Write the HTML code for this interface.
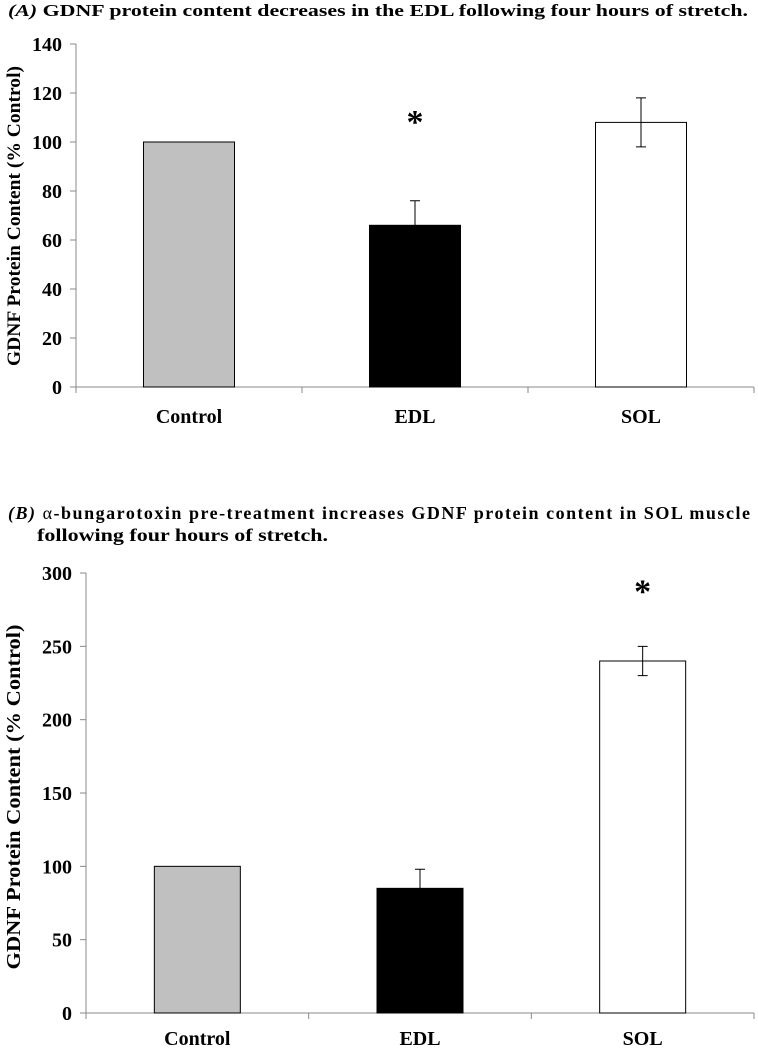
<!DOCTYPE html>
<html><head><meta charset="utf-8"><style>
body{margin:0;background:#fff;font-family:"Liberation Serif",serif;}
svg text{font-family:"Liberation Serif",serif;font-weight:bold;fill:#000;}
</style></head><body>
<svg width="758" height="1049" id="fig">
<text x="8" y="16" font-size="17" textLength="740" lengthAdjust="spacingAndGlyphs"><tspan font-style="italic">(A)</tspan>  GDNF protein content decreases in the EDL following four hours of stretch.</text>
<text x="8" y="519" font-size="18" textLength="742" lengthAdjust="spacing"><tspan font-style="italic">(B)</tspan> <tspan font-weight="normal">α</tspan>-bungarotoxin pre-treatment increases GDNF protein content in SOL muscle</text>
<text x="37" y="541" font-size="18" textLength="291" lengthAdjust="spacingAndGlyphs">following four hours of stretch.</text>
<g id="chartA"></g><g id="chartB"></g>
</svg>
<script>
const categories=["Control","EDL","SOL"];
const valuesA=[100,66,108];
const errorsA=[0,10,10];
const ticksA=[0,20,40,60,80,100,120,140];
const valuesB=[100,85,240];
const errorsB=[0,13,10];
const ticksB=[0,50,100,150,200,250,300];
const sigA=[false,true,false];
const sigB=[false,false,true];
const fills=["#c0c0c0","#000000","#ffffff"];
const NS="http://www.w3.org/2000/svg";
function mk(p,t,a){const e=document.createElementNS(NS,t);for(const k in a)e.setAttribute(k,a[k]);p.appendChild(e);return e;}
function draw(g,cfg){
  const y=v=>cfg.y0-(v/cfg.max)*(cfg.y0-cfg.yTop);
  const ax=mk(g,'line',{x1:cfg.ax,x2:cfg.ax,y1:cfg.yTop,y2:cfg.y0,stroke:'#888','stroke-width':1});
  
  
  const xa=mk(g,'line',{x1:cfg.ax,x2:cfg.right,y1:cfg.y0,y2:cfg.y0,stroke:'#888','stroke-width':1});
  
  
  cfg.ticks.forEach(t=>{
    mk(g,'line',{x1:cfg.ax-6,x2:cfg.ax,y1:y(t),y2:y(t),stroke:'#888'});
    const tx=mk(g,'text',{x:cfg.ax-14,y:y(t)+7,'font-size':20,'text-anchor':'end'});
    tx.textContent=t;
    
    
  });
  const n=categories.length, step=(cfg.right-cfg.ax)/n;
  for(let i=0;i<=n;i++) mk(g,'line',{x1:cfg.ax+i*step,x2:cfg.ax+i*step,y1:cfg.y0,y2:cfg.y0+6,stroke:'#888'});
  categories.forEach((c,i)=>{
    const cx=cfg.ax+step*(i+0.5);
    const r=mk(g,'rect',{x:cx-cfg.bw/2,y:y(cfg.vals[i]),width:cfg.bw,height:cfg.y0-y(cfg.vals[i]),fill:fills[i],stroke:'#000','stroke-width':1});
    
    
    if(cfg.errs[i]>0){
      const top=y(cfg.vals[i]+cfg.errs[i]), bot=y(cfg.vals[i]-cfg.errs[i]);
      const eb=mk(g,'path',{d:`M${cx} ${bot}V${top}M${cx-5} ${top}H${cx+5}M${cx-5} ${bot}H${cx+5}`,stroke:'#000',fill:'none'});
      
      
    }
    if(cfg.sig[i]){
      const s=mk(g,'text',{x:cx,y:y(cfg.vals[i]+cfg.errs[i])-cfg.sigOff,'font-size':34,'text-anchor':'middle'});
      s.textContent='*';
      
      
    }
    const l=mk(g,'text',{x:cx,y:cfg.y0+cfg.labOff,'font-size':20,'text-anchor':'middle'});
    l.textContent=c;
    
    
  });
  const yt=mk(g,'text',{x:0,y:0,'font-size':cfg.ytF,'text-anchor':'middle',textLength:cfg.ytL,lengthAdjust:'spacingAndGlyphs',transform:`translate(${cfg.ytX},${cfg.ytY}) rotate(-90)`});
  yt.textContent='GDNF Protein Content (% Control)';
  
  
}
draw(document.getElementById('chartA'),{ax:76,right:754,y0:387,yTop:44,max:140,ticks:ticksA,vals:valuesA,errs:errorsA,sig:sigA,bw:91,labOff:36,ytX:20,ytY:216,ytF:19,ytL:300,sigOff:68});
draw(document.getElementById('chartB'),{ax:86,right:754,y0:1013,yTop:573,max:300,ticks:ticksB,vals:valuesB,errs:errorsB,sig:sigB,bw:86,labOff:32,ytX:20,ytY:797,ytF:20,ytL:345,sigOff:44});
</script>
</body></html>
